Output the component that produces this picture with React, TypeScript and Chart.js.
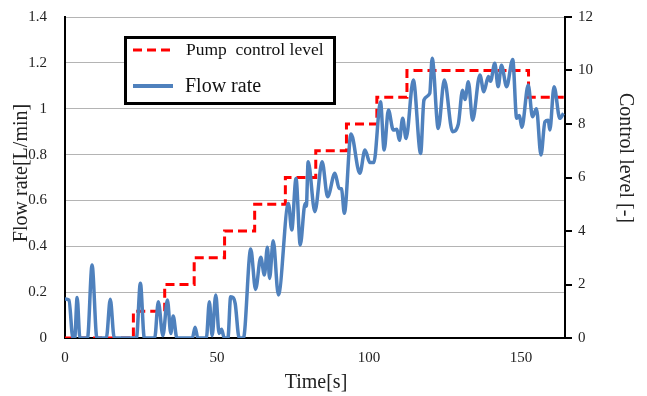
import React, { useEffect, useRef } from "react";
import { Chart, registerables } from "chart.js";

Chart.register(...registerables);

// Flow rate series (time in s, value in L/min)
const timeS = [
  0, 1.3, 2.6, 3.2, 4.0, 4.9, 7.4, 8.9, 10.5, 13.6, 14.9, 16.2, 23.5, 24.8, 26.1,
  29.5, 30.7, 32.2, 33.7, 34.8, 35.6, 36.8, 41.9, 42.8, 43.7, 46.5, 47.5, 48.4, 49.6,
  50.7, 51.5, 52.4, 53.6, 54.5, 55.4, 56.0, 57.3, 58.7, 61.1, 62.7, 64.4, 65.6, 66.6,
  67.3, 68.5, 70.2, 73.5, 74.6, 76.0, 77.4, 79.0, 79.4, 80.0, 82.2, 84.6, 86.4, 88.8,
  90.2, 91.0, 91.9, 94.1, 97.0, 98.7, 100.3, 101.6, 103.8, 105.0, 106.4, 108.0, 109.2,
  110.0, 111.1, 112.2, 114.6, 117.0, 118.1, 120.0, 120.8, 122.8, 124.8, 127.5, 129.4,
  130.8, 131.6, 132.7, 134.1, 136.5, 137.8, 139.3, 140.0, 141.4, 142.5, 143.6, 145.3,
  147.3, 148.6, 149.5, 150.3, 152.4, 153.8, 155.1, 156.6, 157.9, 159.0, 159.5, 160.9,
  162.8, 164.0,
];
const flowRate = [
  0.17, 0.165, 0, 0, 0.177, 0, 0, 0.318, 0, 0, 0.169, 0, 0, 0.239, 0,
  0, 0.158, 0.01, 0.166, 0.02, 0.096, 0, 0, 0.047, 0, 0, 0.158, 0.01, 0.188,
  0.02, 0.038, 0, 0, 0.18, 0.175, 0.15, 0, 0, 0.388, 0.212, 0.352, 0.275, 0.396,
  0.26, 0.424, 0.188, 0.587, 0.471, 0.696, 0.406, 0.587, 0.575, 0.769, 0.551, 0.769, 0.616, 0.718,
  0.653, 0.65, 0.544, 0.89, 0.718, 0.82, 0.765, 0.765, 1.03, 0.82, 0.994, 0.907, 0.91,
  0.862, 0.958, 0.87, 1.125, 0.805, 1.038, 1.067, 1.22, 0.914, 1.125, 0.9, 0.933,
  1.08, 1.04, 1.118, 0.95, 1.147, 1.074, 1.14, 1.12, 1.198, 1.096, 1.19, 1.096,
  1.215, 0.958, 0.97, 0.919, 1.103, 0.965, 1.0, 0.798, 0.943, 0.95, 0.907, 1.096,
  0.958, 0.98,
];

// Pump control level steps
const levelTimes = [0, 22.5, 32.8, 42.5, 52.5, 62.4, 72.5, 82.5, 92.6, 102.6, 112.5, 152.5, 164.5];
const levelValues = [0, 1, 2, 3, 4, 5, 6, 7, 8, 9, 10, 9, 9];

const xTicks = [0, 50, 100, 150];
const leftTickLabels = ["0", "0.2", "0.4", "0.6", "0.8", "1", "1.2", "1.4"];
const rightTickLabels = ["0", "2", "4", "6", "8", "10", "12"];

const FONT = "'Liberation Serif', 'Times New Roman', serif";

const zeroPad = (s: any) => {
  s.paddingTop = 0;
  s.paddingBottom = 0;
  s.paddingLeft = 0;
  s.paddingRight = 0;
};

const overlayPlugin = {
  id: "overlay",
  afterDraw(chart: any) {
    const ctx = chart.ctx as CanvasRenderingContext2D;
    ctx.save();
    // Axis titles
    ctx.fillStyle = "#222";
    ctx.textAlign = "center";
    ctx.textBaseline = "middle";
    ctx.font = `20px ${FONT}`;
    ctx.fillText("Time[s]", 316, 383);
    ctx.save();
    ctx.translate(22, 173);
    ctx.rotate(-Math.PI / 2);
    ctx.fillText("Flow rate[L/min]", 0, 0);
    ctx.restore();
    ctx.save();
    ctx.translate(625, 158);
    ctx.rotate(Math.PI / 2);
    ctx.fillText("Control level [-]", 0, 0);
    ctx.restore();

    // Legend box
    const bx = 125.5, by = 37.5, bw = 209, bh = 66;
    ctx.fillStyle = "#fff";
    ctx.fillRect(bx, by, bw, bh);
    ctx.strokeStyle = "#000";
    ctx.lineWidth = 3;
    ctx.strokeRect(bx, by, bw, bh);

    ctx.lineWidth = 3;
    ctx.strokeStyle = "#ff0000";
    ctx.setLineDash([9, 5]);
    ctx.beginPath();
    ctx.moveTo(133, 50);
    ctx.lineTo(174, 50);
    ctx.stroke();
    ctx.setLineDash([]);

    ctx.lineWidth = 4;
    ctx.strokeStyle = "#4F81BD";
    ctx.beginPath();
    ctx.moveTo(133, 86);
    ctx.lineTo(173, 86);
    ctx.stroke();

    ctx.fillStyle = "#111";
    ctx.textAlign = "left";
    ctx.font = `17.5px ${FONT}`;
    ctx.fillText("Pump  control level", 186, 50);
    ctx.font = `20px ${FONT}`;
    ctx.fillText("Flow rate", 185, 87);
    ctx.restore();
  },
};

export default function App() {
  const canvasRef = useRef<HTMLCanvasElement | null>(null);

  useEffect(() => {
    document.body.style.margin = "0";
    const canvas = canvasRef.current;
    if (!canvas) return;
    const flowPoints = timeS.map((t, i) => ({ x: t, y: flowRate[i] }));
    const levelPoints = levelTimes.map((t, i) => ({ x: t, y: levelValues[i] }));

    const chart = new Chart(canvas, {
      type: "line",
      data: {
        datasets: [
          {
            label: "Flow rate",
            data: flowPoints,
            borderColor: "#4F81BD",
            borderWidth: 3.5,
            pointRadius: 0,
            cubicInterpolationMode: "monotone",
            yAxisID: "y",
            order: 0,
          },
          {
            label: "Pump  control level",
            data: levelPoints,
            borderColor: "#ff0000",
            borderWidth: 3,
            borderDash: [9, 5],
            pointRadius: 0,
            stepped: "before",
            yAxisID: "y1",
            order: 1,
          },
        ],
      },
      options: {
        responsive: false,
        animation: false,
        layout: { padding: { top: 17, left: 0, right: 0, bottom: 0 } },
        plugins: { legend: { display: false }, tooltip: { enabled: false } },
        scales: {
          x: {
            type: "linear",
            min: 0,
            max: 164.5,
            afterBuildTicks: (s: any) => {
              s.ticks = xTicks.map((v) => ({ value: v }));
            },
            afterFit: (s: any) => {
              s.height = 58;
              zeroPad(s);
            },
            grid: { display: false, drawTicks: false },
            border: { display: true, color: "#000", width: 2 },
            ticks: {
              font: { family: FONT, size: 15 },
              color: "#222",
              padding: 11,
              maxRotation: 0,
              callback: (v: any) => String(v),
            },
          },
          y: {
            position: "left",
            min: 0,
            max: 1.4,
            afterBuildTicks: (s: any) => {
              s.ticks = leftTickLabels.map((l) => ({ value: parseFloat(l) }));
            },
            afterFit: (s: any) => {
              s.width = 65;
              zeroPad(s);
            },
            grid: { color: "#b4b4b4", lineWidth: 1, drawTicks: false },
            border: { display: true, color: "#000", width: 2 },
            ticks: {
              font: { family: FONT, size: 15 },
              color: "#222",
              padding: 18,
              callback: (v: any) => leftTickLabels[Math.round(Number(v) / 0.2)],
            },
          },
          y1: {
            position: "right",
            min: 0,
            max: 12,
            afterBuildTicks: (s: any) => {
              s.ticks = rightTickLabels.map((l) => ({ value: parseFloat(l) }));
            },
            afterFit: (s: any) => {
              s.width = 82;
              zeroPad(s);
            },
            grid: { drawOnChartArea: false, drawTicks: true, tickLength: 7, color: "#000", lineWidth: 2 },
            border: { display: true, color: "#000", width: 2 },
            ticks: {
              font: { family: FONT, size: 15 },
              color: "#222",
              padding: 6,
              callback: (v: any) => String(v),
            },
          },
        },
      },
      plugins: [overlayPlugin],
    } as any);

    return () => {
      chart.destroy();
    };
  }, []);

  return (
    <div style={{ position: "absolute", left: 0, top: 0, width: 647, height: 396, background: "#fff" }}>
      <canvas ref={canvasRef} width={647} height={396} style={{ width: 647, height: 396 }} />
    </div>
  );
}
